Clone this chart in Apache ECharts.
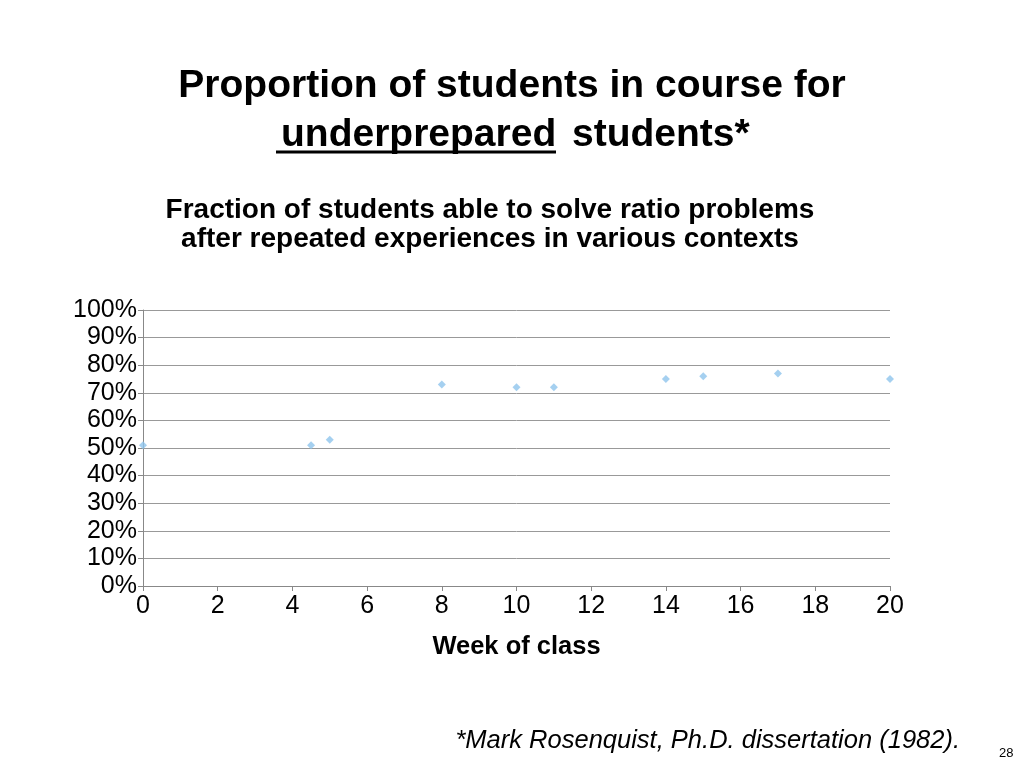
<!DOCTYPE html>
<html><head><meta charset="utf-8">
<script src="https://cdn.jsdelivr.net/npm/echarts@6/dist/echarts.min.js"></script>
<style>html,body{margin:0;padding:0;background:#fff}#c{width:1024px;height:768px}</style>
</head><body><div id="c"></div>
<script>
const weeks = [0, 4.5, 5, 8, 10, 11, 14, 15, 17, 20];
const fractions = [51, 51, 53, 73, 72, 72, 75, 76, 77, 75];
const xTicks = [0,2,4,6,8,10,12,14,16,18,20];
const chart = echarts.init(document.getElementById('c'));
const F = 'Liberation Sans, Arial, sans-serif';
chart.setOption({
  backgroundColor: '#fff',
  animation: false,
  title: [
    {text: 'Proportion of students in course for', left: 'center', top: 62, textStyle: {fontFamily: F, fontSize: 39, fontWeight: 'bold', color: '#000'}},
    {text: 'underprepared', left: 276, top: 111, textStyle: {fontFamily: F, fontSize: 39, fontWeight: 'bold', color: '#000'}},
    {text: 'students*', left: 567, top: 111, textStyle: {fontFamily: F, fontSize: 39, fontWeight: 'bold', color: '#000'}},
    {text: 'Fraction of students able to solve ratio problems\nafter repeated experiences in various contexts', left: 485, textAlign: 'center', top: 191, textStyle: {fontFamily: F, fontSize: 28, fontWeight: 'bold', color: '#000', lineHeight: 29}},
    {text: '*Mark Rosenquist, Ph.D. dissertation (1982).', right: 59, top: 723, textStyle: {fontFamily: F, fontSize: 25.5, fontStyle: 'italic', fontWeight: 'normal', color: '#000'}},
    {text: '28', left: 994, top: 742, textStyle: {fontFamily: F, fontSize: 13, fontWeight: 'normal', color: '#000'}}
  ],
  graphic: [{type: 'line', shape: {x1: 276, y1: 152, x2: 556, y2: 152}, style: {stroke: '#000', lineWidth: 3}}],
  grid: {left: 143, right: 134, top: 310, bottom: 182},
  xAxis: {type: 'value', min: 0, max: 20, interval: 2,
    name: 'Week of class', nameLocation: 'middle', nameGap: 48,
    nameTextStyle: {fontFamily: F, fontSize: 25.5, fontWeight: 'bold', color: '#000'},
    axisLine: {lineStyle: {color: '#888'}}, axisTick: {show: true, length: 5, lineStyle: {color: '#888'}},
    splitLine: {show: false},
    axisLabel: {fontFamily: F, fontSize: 25, color: '#000', margin: 8}},
  yAxis: {type: 'value', min: 0, max: 100, interval: 10,
    axisLine: {show: true, lineStyle: {color: '#888'}}, axisTick: {show: true, length: 5, lineStyle: {color: '#888'}},
    splitLine: {lineStyle: {color: '#999'}},
    axisLabel: {fontFamily: F, fontSize: 25, color: '#000', margin: 6, formatter: '{value}%'}},
  series: [{type: 'scatter', symbol: 'diamond', symbolSize: 8,
    itemStyle: {color: '#8ec4ec'},
    data: weeks.map((w, i) => [w, fractions[i]])}]
});
</script></body></html>
